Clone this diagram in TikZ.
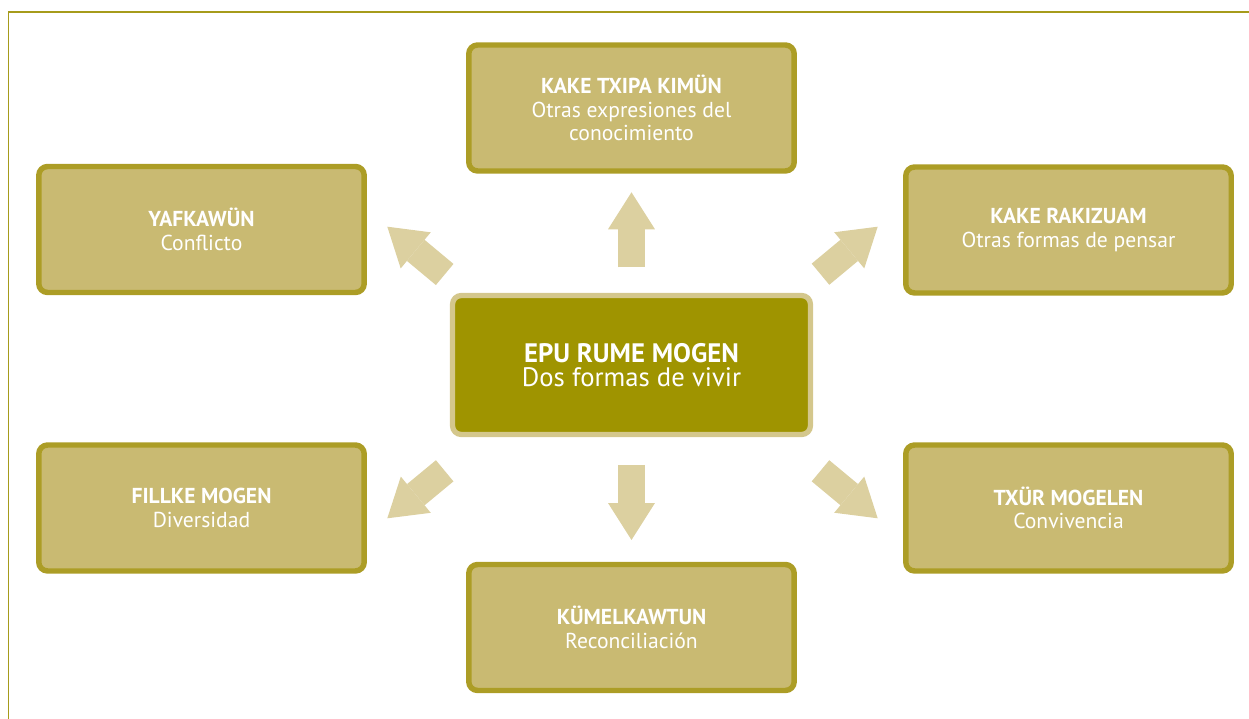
\documentclass[tikz,border=0pt]{standalone}
\usepackage{fontspec}
\setmainfont{PT Sans}
\usetikzlibrary{arrows.meta}

\definecolor{boxfill}{HTML}{C9BA72}
\definecolor{boxline}{HTML}{AC9D26}
\definecolor{midfill}{HTML}{9F9400}
\definecolor{midline}{HTML}{D4C78C}
\definecolor{arrowfill}{HTML}{DCD0A0}
\definecolor{frameline}{HTML}{A69B1B}

\tikzset{
    topic/.style={draw=boxline, fill=boxfill, line width=3.1pt, rounded corners=5pt,
        minimum width=6.51cm, minimum height=2.52cm, align=center, text=white,
        font=\fontsize{12.3}{13.4}\selectfont},
    core/.style={draw=midline, fill=midfill, line width=3pt, rounded corners=5pt,
        minimum width=7.16cm, minimum height=2.78cm, align=center, text=white,
        font=\fontsize{15.2}{13.8}\selectfont},
    bigarrow/.style={draw=arrowfill, line width=0.55cm,
        -{Triangle[length=0.74cm, width=0.94cm, line width=0pt]}}
}

\begin{document}
\begin{tikzpicture}[x=0.02cm, y=-0.02cm]
    \useasboundingbox (0,0) rectangle (1249,719);
    \draw [frameline, line width=0.8pt] (8.5,719) -- (8.5,12) -- (1249,12);

    \node[core] (mid) at (631.5,365) {\textbf{EPU RUME MOGEN}\\Dos formas de vivir};

    \node[topic] (kimun) at (631.5,108) {\textbf{KAKE TXIPA KIMÜN}\\Otras expresiones del\\conocimiento};
    \node[topic] (yafkawun) at (201.5,229.5) {\textbf{YAFKAWÜN}\\Conflicto};
    \node[topic] (rakizuam) at (1068.5,230) {\textbf{KAKE RAKIZUAM}\\Otras formas de pensar};
    \node[topic] (fillke) at (201.5,508) {\textbf{FILLKE MOGEN}\\Diversidad};
    \node[topic] (txur) at (1068.5,508) {\textbf{TXÜR MOGELEN}\\Convivencia};
    \node[topic] (kumel) at (631.5,627.5) {\textbf{KÜMELKAWTUN}\\Reconciliación};

    % arrow ends
    \coordinate (upA) at (631.5,267.3);
    \coordinate (upB) at (631.5,192.3);
    \coordinate (dnA) at (631.5,465);
    \coordinate (dnB) at (631.5,540);
    \coordinate (ulA) at (444.7,274.5);
    \coordinate (ulB) at (387.3,226.7);
    \coordinate (urA) at (820.5,274.2);
    \coordinate (urB) at (877.7,226.7);
    \coordinate (llA) at (444.7,470.8);
    \coordinate (llB) at (387.3,518.3);
    \coordinate (lrA) at (820.5,470.8);
    \coordinate (lrB) at (877.7,518.3);

    \draw [bigarrow] (upA) -- (upB);
    \draw [bigarrow] (dnA) -- (dnB);
    \draw [bigarrow] (ulA) -- (ulB);
    \draw [bigarrow] (urA) -- (urB);
    \draw [bigarrow] (llA) -- (llB);
    \draw [bigarrow] (lrA) -- (lrB);
\end{tikzpicture}
\end{document}
